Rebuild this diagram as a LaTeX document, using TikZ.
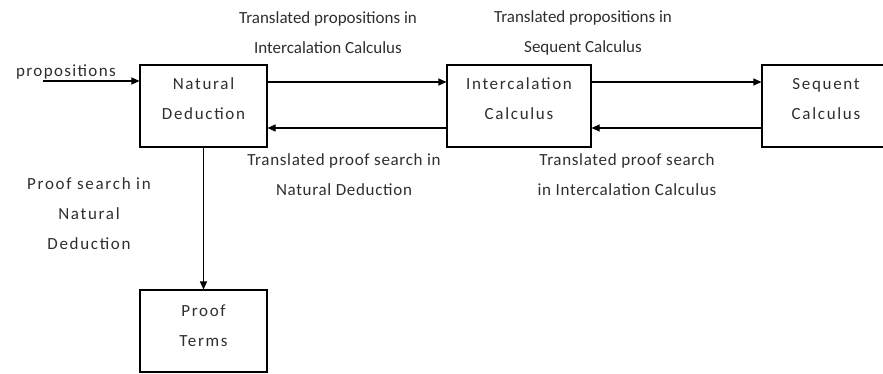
\documentclass[tikz,border=0pt]{standalone}
\usepackage{fontspec}
\setmainfont{Carlito}
\usetikzlibrary{arrows.meta}
\begin{document}
\begin{tikzpicture}[x=1pt,y=-1pt,
  every node/.style={font=\fontsize{17}{30}\selectfont, text=black!82},
  procbox/.style={draw=black, line width=1.1pt, minimum height=82pt, inner sep=0pt},
  lbl/.style={align=center, inner sep=0pt},
  boxtxt/.style={align=center, inner sep=0pt, font=\fontsize{17}{30}\selectfont\addfontfeature{LetterSpace=10}},
  arr/.style={draw=black, line width=1.1pt, -{Triangle[length=8pt,width=7pt]}}]
\useasboundingbox (0,0) rectangle (883,374);
\clip (0,0) rectangle (883,374);
% boxes
\node[procbox, minimum width=127pt] (ND) at (203.5,106) {};
\node[procbox, minimum width=144pt] (IC) at (519,106) {};
\node[procbox, minimum width=128pt] (SC) at (826,106) {};
\node[procbox, minimum width=127pt] (PT) at (203.5,331) {};
% box texts
\node[boxtxt] (NDt) at ([yshift=7pt]ND.center) {Natural\\Deduction};
\node[boxtxt] (ICt) at ([yshift=7pt]IC.center) {Intercalation\\Calculus};
\node[boxtxt] (SCt) at ([yshift=7pt]SC.center) {Sequent\\Calculus};
\node[boxtxt] (PTt) at ([yshift=5pt]PT.center) {Proof\\Terms};
% connectors
\coordinate (pin) at (43,81);
\draw[arr] (pin) -- (pin -| ND.west);
\draw[arr] ([yshift=24pt]ND.east) -- ([yshift=24pt]IC.west);
\draw[arr] ([yshift=24pt]IC.east) -- ([yshift=24pt]SC.west);
\draw[arr] ([yshift=-22pt]IC.west) -- ([yshift=-22pt]ND.east);
\draw[arr] ([yshift=-22pt]SC.west) -- ([yshift=-22pt]IC.east);
\draw[arr] (ND.south) -- (PT.north);
% labels
\node[lbl] (Lp) at (66,72) {\addfontfeature{LetterSpace=8}propositions};
\node[lbl] (L1) at (328,33) {Translated propositions in\\Intercalation Calculus};
\node[lbl] (L2) at (583,33) {Translated propositions in\\Sequent Calculus};
\node[lbl, font=\fontsize{17}{30}\selectfont\addfontfeature{LetterSpace=4}] (L3) at (344,175) {Translated proof search in\\Natural Deduction};
\node[lbl, font=\fontsize{17}{30}\selectfont\addfontfeature{LetterSpace=4}] (L4) at (627,175) {Translated proof search\\in Intercalation Calculus};
\node[lbl, font=\fontsize{17}{30}\selectfont\addfontfeature{LetterSpace=10}] (L5) at (89,214) {Proof search in\\Natural\\Deduction};
\end{tikzpicture}
\end{document}
